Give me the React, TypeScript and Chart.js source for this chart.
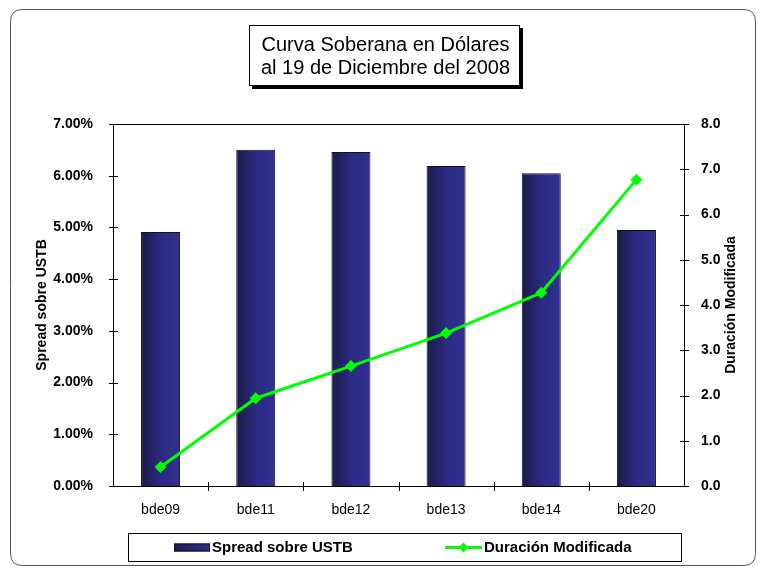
import React, { useEffect, useRef } from "react";
import { Chart, registerables } from "chart.js";

Chart.register(...registerables);

const categories = ["bde09", "bde11", "bde12", "bde13", "bde14", "bde20"];
const spreadValues = [4.91, 6.5, 6.46, 6.19, 6.05, 4.95];
const duracionValues = [0.42, 1.94, 2.65, 3.38, 4.27, 6.77];
const titleLines = ["Curva Soberana en Dólares", "al 19 de Diciembre del 2008"];
const spreadLabel = "Spread sobre USTB";
const duracionLabel = "Duración Modificada";

const FONT = "'Liberation Sans', Arial, sans-serif";

const framePlugin = {
  id: "frame",
  beforeDraw(chart: any) {
    const ctx = chart.ctx;
    ctx.save();
    ctx.fillStyle = "#ffffff";
    ctx.fillRect(0, 0, chart.width, chart.height);
    // outer rounded frame
    const x = 10.5, y = 9.5, w = 745, h = 556, r = 12;
    ctx.beginPath();
    ctx.moveTo(x + r, y);
    ctx.lineTo(x + w - r, y);
    ctx.quadraticCurveTo(x + w, y, x + w, y + r);
    ctx.lineTo(x + w, y + h - r);
    ctx.quadraticCurveTo(x + w, y + h, x + w - r, y + h);
    ctx.lineTo(x + r, y + h);
    ctx.quadraticCurveTo(x, y + h, x, y + h - r);
    ctx.lineTo(x, y + r);
    ctx.quadraticCurveTo(x, y, x + r, y);
    ctx.strokeStyle = "#555555";
    ctx.lineWidth = 1;
    ctx.stroke();

    // title box with shadow
    const tx = 249, ty = 25, tw = 271, th = 61;
    ctx.fillStyle = "#000000";
    ctx.fillRect(tx + 3, ty + 3, tw, th);
    ctx.fillStyle = "#ffffff";
    ctx.fillRect(tx, ty, tw, th);
    ctx.strokeStyle = "#000000";
    ctx.strokeRect(tx + 0.5, ty + 0.5, tw - 1, th - 1);
    ctx.fillStyle = "#000000";
    ctx.font = `20px ${FONT}`;
    ctx.textAlign = "center";
    ctx.textBaseline = "middle";
    ctx.fillText(titleLines[0], tx + tw / 2 + 1, ty + 20);
    ctx.fillText(titleLines[1], tx + tw / 2 + 1, ty + 43);
    ctx.restore();
  },
  afterDraw(chart: any) {
    const ctx = chart.ctx;
    const a = chart.chartArea;
    ctx.save();
    ctx.strokeStyle = "#000000";
    ctx.lineWidth = 1;
    // plot frame
    ctx.strokeRect(Math.round(a.left) + 0.5, Math.round(a.top) + 0.5, Math.round(a.right - a.left), Math.round(a.bottom - a.top));
    // y ticks crossing
    const yl = chart.scales.y;
    const yr = chart.scales.y1;
    ctx.beginPath();
    yl.ticks.forEach((t: any) => {
      const py = Math.round(yl.getPixelForValue(t.value)) + 0.5;
      ctx.moveTo(Math.round(a.left) - 4, py);
      ctx.lineTo(Math.round(a.left) + 5, py);
    });
    yr.ticks.forEach((t: any) => {
      const py = Math.round(yr.getPixelForValue(t.value)) + 0.5;
      ctx.moveTo(Math.round(a.right) - 4, py);
      ctx.lineTo(Math.round(a.right) + 5, py);
    });
    const xs = chart.scales.x;
    const n = categories.length;
    for (let i = 1; i < n; i++) {
      const px = Math.round((xs.getPixelForValue(i - 1) + xs.getPixelForValue(i)) / 2) + 0.5;
      ctx.moveTo(px, Math.round(a.bottom) - 4);
      ctx.lineTo(px, Math.round(a.bottom) + 5);
    }
    ctx.stroke();

    // right axis title (reads bottom to top)
    ctx.fillStyle = "#000000";
    ctx.font = `bold 14px ${FONT}`;
    ctx.textAlign = "center";
    ctx.textBaseline = "middle";
    ctx.save();
    ctx.translate(731, (a.top + a.bottom) / 2);
    ctx.rotate(-Math.PI / 2);
    ctx.fillText(duracionLabel, 0, 0);
    ctx.restore();

    // legend box
    const lx = 128, ly = 533, lw = 553, lh = 28;
    ctx.fillStyle = "#ffffff";
    ctx.fillRect(lx, ly, lw, lh);
    ctx.strokeStyle = "#000000";
    ctx.strokeRect(lx + 0.5, ly + 0.5, lw, lh);
    const cy = ly + lh / 2 + 0.5;
    // bar swatch
    const g = ctx.createLinearGradient(174, 0, 210, 0);
    g.addColorStop(0, "#1a1a4a");
    g.addColorStop(1, "#303090");
    ctx.fillStyle = g;
    ctx.fillRect(174, cy - 4, 36, 8);
    ctx.strokeStyle = "#111122";
    ctx.strokeRect(174.5, cy - 3.5, 35, 7);
    ctx.fillStyle = "#000000";
    ctx.font = `bold 15px ${FONT}`;
    ctx.textAlign = "left";
    ctx.textBaseline = "middle";
    ctx.fillText(spreadLabel, 212, cy);
    // line swatch
    ctx.strokeStyle = "#00ff00";
    ctx.lineWidth = 3;
    ctx.beginPath();
    ctx.moveTo(445, cy);
    ctx.lineTo(482, cy);
    ctx.stroke();
    ctx.fillStyle = "#00ff00";
    ctx.beginPath();
    ctx.moveTo(463.5, cy - 5);
    ctx.lineTo(468.5, cy);
    ctx.lineTo(463.5, cy + 5);
    ctx.lineTo(458.5, cy);
    ctx.closePath();
    ctx.fill();
    ctx.fillStyle = "#000000";
    ctx.fillText(duracionLabel, 484, cy);
    ctx.restore();
  },
};

function barGradient(c: any) {
  const chart = c.chart;
  const xs = chart.scales && chart.scales.x;
  if (!xs || c.dataIndex == null || !chart.chartArea) return "#2a2a80";
  const cx = xs.getPixelForValue(c.dataIndex);
  const w = (xs.width / categories.length) * 0.41;
  const g = chart.ctx.createLinearGradient(cx - w / 2, 0, cx + w / 2, 0);
  g.addColorStop(0, "#1a1a48");
  g.addColorStop(0.55, "#2c2c86");
  g.addColorStop(1, "#30308f");
  return g;
}

export default function App() {
  const ref = useRef<HTMLCanvasElement | null>(null);
  useEffect(() => {
    if (!ref.current) return;
    const chart = new Chart(ref.current, {
      type: "bar",
      data: {
        labels: categories,
        datasets: [
          {
            type: "line",
            label: duracionLabel,
            data: duracionValues,
            yAxisID: "y1",
            borderColor: "#00ff00",
            backgroundColor: "#00ff00",
            borderWidth: 3,
            pointStyle: "rectRot",
            pointRadius: 6,
            pointBorderWidth: 0,
            pointBackgroundColor: "#00ff00",
            tension: 0,
            order: 0,
          } as any,
          {
            type: "bar",
            label: spreadLabel,
            data: spreadValues,
            yAxisID: "y",
            backgroundColor: barGradient,
            borderColor: "#111122",
            borderWidth: 1,
            categoryPercentage: 1,
            barPercentage: 0.41,
            order: 1,
          } as any,
        ],
      },
      options: {
        responsive: false,
        animation: false,
        events: [],
        layout: { padding: { left: 10, right: 10, top: 124, bottom: 50 } },
        plugins: {
          legend: { display: false },
          title: { display: false },
          tooltip: { enabled: false },
        },
        scales: {
          x: {
            grid: { display: false },
            border: { display: false },
            ticks: {
              color: "#000000",
              font: { family: FONT, size: 14 },
              padding: 8,
              maxRotation: 0,
            },
            afterFit(s: any) {
              s.height = 35;
            },
          },
          y: {
            position: "left",
            min: 0,
            max: 7,
            grid: { display: false },
            border: { display: false },
            ticks: {
              stepSize: 1,
              color: "#000000",
              font: { family: FONT, size: 14, weight: "bold" },
              padding: 12,
              callback: (v: any) => Number(v).toFixed(2) + "%",
            },
            title: {
              display: true,
              text: spreadLabel,
              color: "#000000",
              font: { family: FONT, size: 14, weight: "bold" },
              padding: { top: 24, bottom: 0 },
            },
            afterFit(s: any) {
              s.width = 103;
            },
          },
          y1: {
            position: "right",
            min: 0,
            max: 8,
            grid: { display: false },
            border: { display: false },
            ticks: {
              stepSize: 1,
              color: "#000000",
              font: { family: FONT, size: 14, weight: "bold" },
              padding: 9,
              callback: (v: any) => Number(v).toFixed(1),
            },
            afterFit(s: any) {
              s.width = 67;
            },
          },
        },
      },
      plugins: [framePlugin],
    });
    return () => chart.destroy();
  }, []);
  return (
    <div style={{ position: "fixed", left: 0, top: 0, width: 761, height: 571 }}>
      <canvas ref={ref} width={761} height={571} style={{ display: "block" }} />
    </div>
  );
}
